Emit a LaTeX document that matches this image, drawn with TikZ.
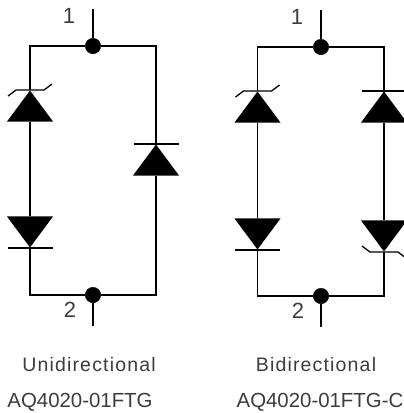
\documentclass[tikz,border=0pt]{standalone}
\usepackage{fontspec}
\setmainfont{Liberation Sans}
\usetikzlibrary{calc}
\usetikzlibrary{positioning}
\usetikzlibrary{shapes.geometric}
\definecolor{labelgray}{HTML}{3C3C3C}
\tikzset{
  every picture/.style={x=1pt, y=-1pt},
  hub/.style={draw, fill=black, circle, inner sep=0pt, minimum size=15.5pt},
  wire/.style={draw, line width=1.3pt},
  diodeup/.style={fill=black, isosceles triangle, isosceles triangle stretches,
    shape border rotate=90, inner sep=0pt, minimum width=46pt, minimum height=31pt, anchor=apex},
  diodedown/.style={diodeup, shape border rotate=-90},
  pinlabel/.style={font=\fontsize{22}{25}\selectfont, text=labelgray},
  mode/.style={font=\fontsize{19.5}{22}\selectfont\addfontfeatures{LetterSpace=6}, text=labelgray},
  partno/.style={font=\fontsize{20.4}{23}\selectfont, text=labelgray}}
\newcommand{\plainbar}[1]{\draw[wire] ($(#1.apex)+(-22.5,0)$) -- ++(45,0);}
\newcommand{\zenerbar}[1]{\draw[wire] ($(#1.apex)+(-22,6)$) -- ++(8,-6) -- ++(28,0) -- ++(8,-6);}

\begin{document}
\begin{tikzpicture}
  \useasboundingbox (0,0) rectangle (404,413);

  \begin{scope}
    \node[hub] (HA) at (93,46) {};
    \node[hub] (HB) at (93,295) {};
    \coordinate (PA) at (93,9);
    \coordinate (PB) at (93,326);

    \node[diodeup] (DA) at (30,90) {};
    \node[diodedown] (DB) at (30,248) {};
    \node[diodeup] (DC) at (156,144) {};

    \draw[wire] (PA) -- (HA);
    \draw[wire] (PB) -- (HB);
    \draw[wire] (HA) -| (DA.apex);
    \draw[wire] (HA) -| (DC.apex);
    \draw[wire] (HB) -| (DB.apex);
    \draw[wire] (HB) -| (DC.lower side);
    \draw[wire] (DA.lower side) -- (DB.lower side);

    \zenerbar{DA}
    \plainbar{DB}
    \plainbar{DC}

    \node[pinlabel] (LA) at (69,16) {1};
    \node[pinlabel] (LB) at (70,310) {2};
    \node[mode] (CA) at (89,365) {Unidirectional};
    \node[partno] (CB) at (80,402) {AQ4020-01FTG};
  \end{scope}

  \begin{scope}
    \node[hub] (HC) at (321,47) {};
    \node[hub] (HD) at (321,296) {};
    \coordinate (PC) at (321,10);
    \coordinate (PD) at (321,327);

    \node[diodeup] (DD) at (257.5,91) {};
    \node[diodedown] (DE) at (257.5,250) {};
    \node[diodeup] (DF) at (384,91) {};
    \node[diodedown] (DG) at (384,252) {};

    \draw[wire] (PC) -- (HC);
    \draw[wire] (PD) -- (HD);
    \draw[wire] (HC) -| (DD.apex);
    \draw[wire] (HC) -| (DF.apex);
    \draw[wire] (HD) -| (DE.apex);
    \draw[wire] (HD) -| (DG.apex);
    \draw[wire] (DD.lower side) -- (DE.lower side);
    \draw[wire] (DF.lower side) -- (DG.lower side);

    \zenerbar{DD}
    \plainbar{DE}
    \plainbar{DF}
    \draw[wire] ($(DG.apex)+(-22,-6)$) -- ++(8,6) -- ++(28,0) -- ++(8,6);

    \node[pinlabel] (LC) at (297,17) {1};
    \node[pinlabel] (LD) at (298,311) {2};
    \node[mode] (CC) at (316,365) {Bidirectional};
    \node[partno] (CD) at (320,402) {AQ4020-01FTG-C};
  \end{scope}
\end{tikzpicture}
\end{document}
